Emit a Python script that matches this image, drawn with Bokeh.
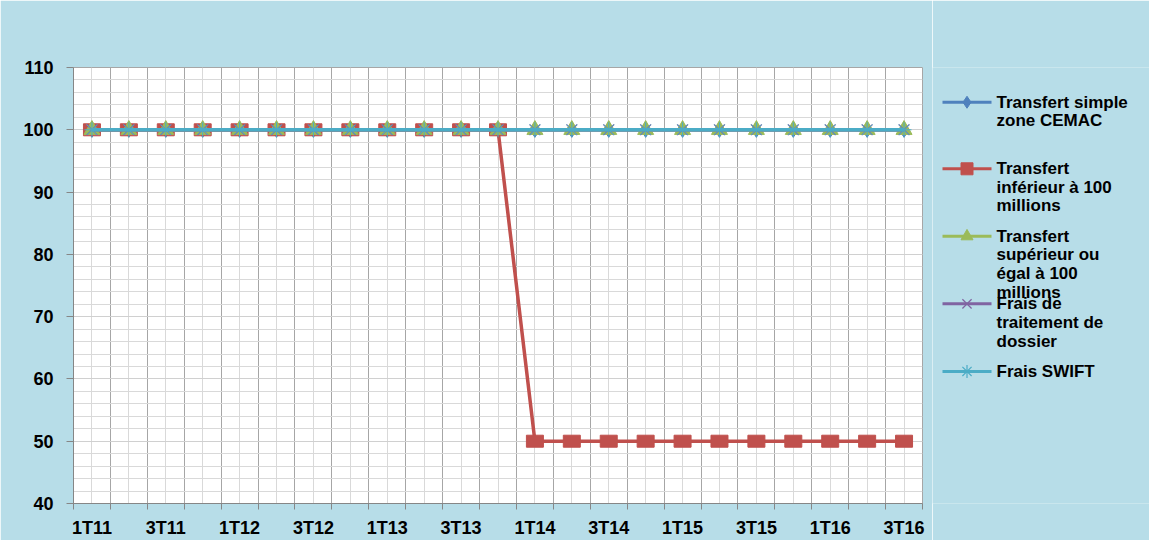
from bokeh.plotting import figure
from bokeh.models import FixedTicker, ColumnDataSource, Range1d
from bokeh.core.properties import value
from bokeh.layouts import row
from bokeh.embed import file_html
from bokeh.resources import INLINE

quarters = ["1T11", "2T11", "3T11", "4T11", "1T12", "2T12", "3T12", "4T12",
            "1T13", "2T13", "3T13", "4T13", "1T14", "2T14", "3T14", "4T14",
            "1T15", "2T15", "3T15", "4T15", "1T16", "2T16", "3T16"]
cemac = [100, 100, 100, 100, 100, 100, 100, 100, 100, 100, 100, 100,
         100, 100, 100, 100, 100, 100, 100, 100, 100, 100, 100]
inferieur = [100, 100, 100, 100, 100, 100, 100, 100, 100, 100, 100, 100,
             50, 50, 50, 50, 50, 50, 50, 50, 50, 50, 50]
superieur = [100, 100, 100, 100, 100, 100, 100, 100, 100, 100, 100, 100,
             100, 100, 100, 100, 100, 100, 100, 100, 100, 100, 100]
traitement = [100, 100, 100, 100, 100, 100, 100, 100, 100, 100, 100, 100,
              100, 100, 100, 100, 100, 100, 100, 100, 100, 100, 100]
swift = [100, 100, 100, 100, 100, 100, 100, 100, 100, 100, 100, 100,
         100, 100, 100, 100, 100, 100, 100, 100, 100, 100, 100]
series_names = ["Transfert simple\nzone CEMAC",
                "Transfert\ninférieur à 100\nmillions",
                "Transfert\nsupérieur ou\négal à 100\nmillions",
                "Frais de\ntraitement de\ndossier",
                "Frais SWIFT"]
y_ticks = [40, 50, 60, 70, 80, 90, 100, 110]

BG = "#B7DDE8"
FONT = "Liberation Sans"
colors = ["#4F81BD", "#C0504D", "#9BBB59", "#8064A2", "#4BACC6"]
markers = ["diamond", "square", "triangle", "x", "asterisk"]

TOTAL_W, TOTAL_H = 1149, 540
BL, BT, BB = 73, 67, 34
PW = 932

xs = list(range(len(quarters)))
src = ColumnDataSource(dict(x=xs, cemac=cemac, inf=inferieur, sup=superieur,
                            trt=traitement, swift=swift))

p = figure(width=PW, height=TOTAL_H, x_range=(-0.5, len(quarters) - 0.5),
           y_range=(y_ticks[0], y_ticks[-1]),
           output_backend="svg", toolbar_location=None,
           min_border_left=BL, min_border_right=10, min_border_top=BT,
           min_border_bottom=BB)
p.background_fill_color = "white"
p.border_fill_color = BG
p.outline_line_color = "#A6A6A6"

# axes
p.yaxis.ticker = FixedTicker(ticks=y_ticks, minor_ticks=list(range(40, 111, 2)))
p.yaxis.major_tick_out = 7
p.yaxis.major_tick_in = 0
p.yaxis.minor_tick_out = 0
p.yaxis.minor_tick_in = 0
p.yaxis.axis_line_color = "#868686"
p.yaxis.major_tick_line_color = "#868686"
p.yaxis.major_label_text_font = FONT
p.yaxis.major_label_text_font_style = "bold"
p.yaxis.major_label_text_font_size = "18px"
p.yaxis.major_label_text_color = "black"
p.yaxis.major_label_standoff = 13

label_pos = xs[::2]
bounds = [i - 0.5 for i in range(len(quarters) + 1)]
p.xaxis.ticker = FixedTicker(ticks=label_pos, minor_ticks=bounds)
p.xaxis.major_label_overrides = {i: quarters[i] for i in label_pos}
p.xaxis.major_tick_line_color = None
p.xaxis.minor_tick_out = 6
p.xaxis.minor_tick_in = 0
p.xaxis.minor_tick_line_color = "#868686"
p.xaxis.axis_line_color = "#868686"
p.xaxis.major_label_text_font = FONT
p.xaxis.major_label_text_font_style = "bold"
p.xaxis.major_label_text_font_size = "18px"
p.xaxis.major_label_text_color = "black"
p.xaxis.major_label_standoff = 8

# grids
p.xgrid.ticker = FixedTicker(ticks=bounds, minor_ticks=xs)
p.xgrid.grid_line_color = "#A6A6A6"
p.xgrid.minor_grid_line_color = "#D9D9D9"
p.ygrid.grid_line_color = "#D0D0D0"
p.ygrid.minor_grid_line_color = "#D9D9D9"

# series
lw = 3.5
p.line("x", "cemac", source=src, color=colors[0], line_width=lw)
p.scatter("x", "cemac", source=src, marker="diamond", size=15, color=colors[0])

p.line("x", "inf", source=src, color=colors[1], line_width=lw)
p.rect("x", "inf", width=17, height=12, width_units="screen", height_units="screen",
       source=src, fill_color=colors[1], line_color=colors[1])

p.line("x", "sup", source=src, color=colors[2], line_width=lw)
p.scatter("x", "sup", source=src, marker="triangle", size=16, color=colors[2])

p.line("x", "trt", source=src, color=colors[3], line_width=lw)
p.scatter("x", "trt", source=src, marker="x", size=15, line_color=colors[3], line_width=1.2)

p.line("x", "swift", source=src, color=colors[4], line_width=lw)
p.scatter("x", "swift", source=src, marker="asterisk", size=15, line_color=colors[4], line_width=1)

# legend panel: separate figure whose frame uses page-pixel coordinates
QW = TOTAL_W - PW
q = figure(width=QW, height=TOTAL_H,
           x_range=Range1d(PW, TOTAL_W), y_range=Range1d(TOTAL_H - BB, BT),
           output_backend="svg", toolbar_location=None,
           min_border_left=0, min_border_right=0, min_border_top=BT,
           min_border_bottom=BB, x_axis_type=None, y_axis_type=None)
q.background_fill_color = BG
q.border_fill_color = BG
q.outline_line_color = None
q.xgrid.grid_line_color = None
q.ygrid.grid_line_color = None

item_y = [102, 169, 237, 305, 373]
gx0, gx1, tx, line_h = 942, 991, 996, 18.7
for name, c, mk, yy in zip(series_names, colors, markers, item_y):
    q.segment(x0=[gx0], y0=[yy], x1=[gx1], y1=[yy], line_color=c, line_width=3)
    if mk in ("x", "asterisk"):
        q.scatter(x=[(gx0 + gx1) / 2], y=[yy], marker=mk, size=13, line_color=c, line_width=1.2)
    else:
        q.scatter(x=[(gx0 + gx1) / 2], y=[yy], marker=mk, size=12, color=c)
    parts = name.split("\n")
    q.text(x=[tx] * len(parts), y=[yy + k * line_h for k in range(len(parts))], text=parts,
           text_font=value(FONT), text_font_style="bold", text_font_size="17px",
           text_color="black", text_baseline="middle", text_align="left")

open("out.html", "w").write(file_html(row(p, q), INLINE))
